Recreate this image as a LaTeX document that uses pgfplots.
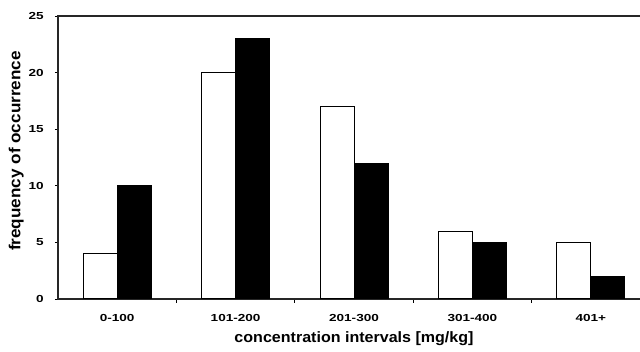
\documentclass[border=0pt]{standalone}
\usepackage{pgfplots}
\pgfplotsset{compat=1.18}
\usepackage{fontspec}
\setmainfont{Liberation Sans}
\begin{document}
\begin{tikzpicture}
\useasboundingbox (0,0) rectangle (640pt,352pt);
\begin{axis}[
  at={(58pt,53pt)}, anchor=south west,
  scale only axis, width=592pt, height=283pt,
  xmin=-0.5, xmax=4.5, ymin=0, ymax=25,
  ytick={0,5,10,15,20,25},
  xtick={0,1,2,3,4},
  xticklabels={0-100,101-200,201-300,301-400,401+},
  minor xtick={0.5,1.5,2.5,3.5},
  tick align=outside, tick pos=left,
  major x tick style={draw=none},
  minor tick length=4pt, major tick length=3pt,
  /pgf/number format/assume math mode=true,
  ticklabel style={font=\bfseries\fontsize{10.2}{12}\selectfont, xscale=1.33},
  yticklabel style={xshift=-5pt},
  xticklabel style={yshift=-9pt},
  axis line style={line width=1.3pt, draw=black!85},
  every tick/.style={black, line width=0.8pt},
  ybar=0pt, bar width=34pt,
  xlabel={concentration intervals [mg/kg]},
  ylabel={frequency of occurrence},
  xlabel style={font=\bfseries\fontsize{15}{17}\selectfont, xscale=1.07, yshift=-3pt},
  ylabel style={font=\bfseries\fontsize{16}{18}\selectfont, xscale=1.07, yshift=-3pt, xshift=6pt},
]
\addplot[fill=white, draw=black, line width=1pt] coordinates {(0,4) (1,20) (2,17) (3,6) (4,5)};
\addplot[fill=black, draw=black, line width=1pt] coordinates {(0,10) (1,23) (2,12) (3,5) (4,2)};
\end{axis}
\end{tikzpicture}
\end{document}
